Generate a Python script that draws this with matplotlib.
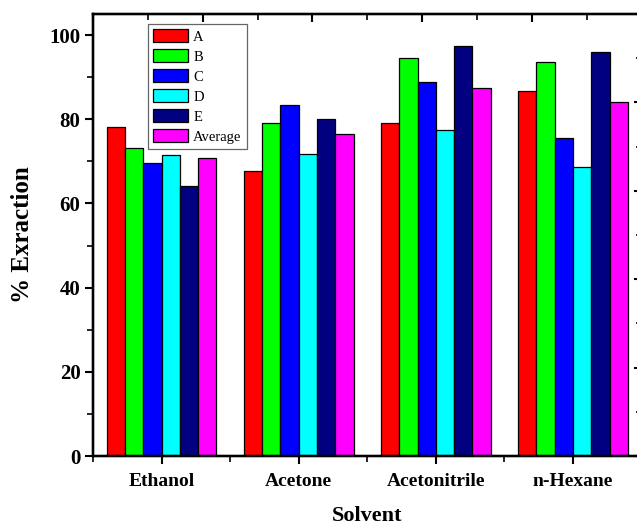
import matplotlib
matplotlib.use("Agg")
import matplotlib.pyplot as plt
import numpy as np
from matplotlib.ticker import MultipleLocator

plt.rcParams['font.family'] = ['Liberation Serif', 'DejaVu Serif']

solvents = ["Ethanol", "Acetone", "Acetonitrile", "n-Hexane"]
series_names = ["A", "B", "C", "D", "E", "Average"]
A = [78.2, 67.7, 79.2, 86.7]
B = [73.2, 79.1, 94.5, 93.6]
C = [69.6, 83.5, 88.8, 75.5]
D = [71.6, 71.8, 77.4, 68.7]
E = [64.1, 80.0, 97.5, 96.0]
Average = [70.9, 76.4, 87.4, 84.1]
series = [A, B, C, D, E, Average]
colors = ["#FF0000", "#00FF00", "#0000FF", "#00FFFF", "#000080", "#FF00FF"]

W, H = 637, 527
fig = plt.figure(figsize=(W / 100, H / 100), dpi=100)
left, right, top, bottom = 93, 641.5, 14, 456
ax = fig.add_axes([left / W, 1 - bottom / H, (right - left) / W, (bottom - top) / H])

x = np.arange(1, len(solvents) + 1)
w = 0.8 / 6
for j, (vals, c, name) in enumerate(zip(series, colors, series_names)):
    ax.bar(x + (j - 2.5) * w, vals, width=w, color=c, edgecolor="black",
           linewidth=0.9, label=name, zorder=2)

ax.set_xlim(0.5, 4.5)
ax.set_ylim(0, 105)
ax.set_xticks(x)
ax.set_xticklabels(solvents, fontweight="bold", fontsize=14)
ax.xaxis.set_minor_locator(MultipleLocator(0.5))
ax.yaxis.set_major_locator(MultipleLocator(20))
ax.yaxis.set_minor_locator(MultipleLocator(10))
for lab in ax.get_yticklabels():
    lab.set_fontweight("bold")
    lab.set_fontsize(15)
ax.tick_params(axis="both", which="major", direction="out", length=6, width=1.5, pad=3)
ax.tick_params(axis="both", which="minor", direction="out", length=4, width=1.2)
ax.tick_params(axis="x", which="major", pad=6)
for s in ax.spines.values():
    s.set_linewidth(1.6)

ax.set_xlabel("Solvent", fontweight="bold", fontsize=16, labelpad=12)
ax.set_ylabel("% Exraction", fontweight="bold", fontsize=18, labelpad=11)

axt = ax.twiny()
axt.set_xlim(0, 5)
axt.xaxis.set_major_locator(MultipleLocator(1))
axt.xaxis.set_minor_locator(MultipleLocator(0.5))
axt.tick_params(axis="x", which="major", direction="in", length=6, width=1.5, labeltop=False)
axt.tick_params(axis="x", which="minor", direction="in", length=4, width=1.2)

axr = ax.twinx()
axr.set_ylim(0, 5)
axr.yaxis.set_major_locator(MultipleLocator(1))
axr.yaxis.set_minor_locator(MultipleLocator(0.5))
axr.tick_params(axis="y", which="major", direction="in", length=6, width=1.5, labelright=False)
axr.tick_params(axis="y", which="minor", direction="in", length=4, width=1.2)
for a in (axt, axr):
    for s in a.spines.values():
        s.set_linewidth(1.6)

leg = ax.legend(loc="upper left", bbox_to_anchor=(148 / W, 1 - 24 / H),
                bbox_transform=fig.transFigure, fontsize=10.5, frameon=True,
                fancybox=False, edgecolor="#666666", framealpha=1,
                handlelength=2.4, handleheight=1.0, labelspacing=0.38,
                handletextpad=0.35, borderpad=0.35, borderaxespad=0)
leg.get_frame().set_linewidth(0.9)
leg.set_zorder(5)

fig.savefig("out.png", dpi=100)
